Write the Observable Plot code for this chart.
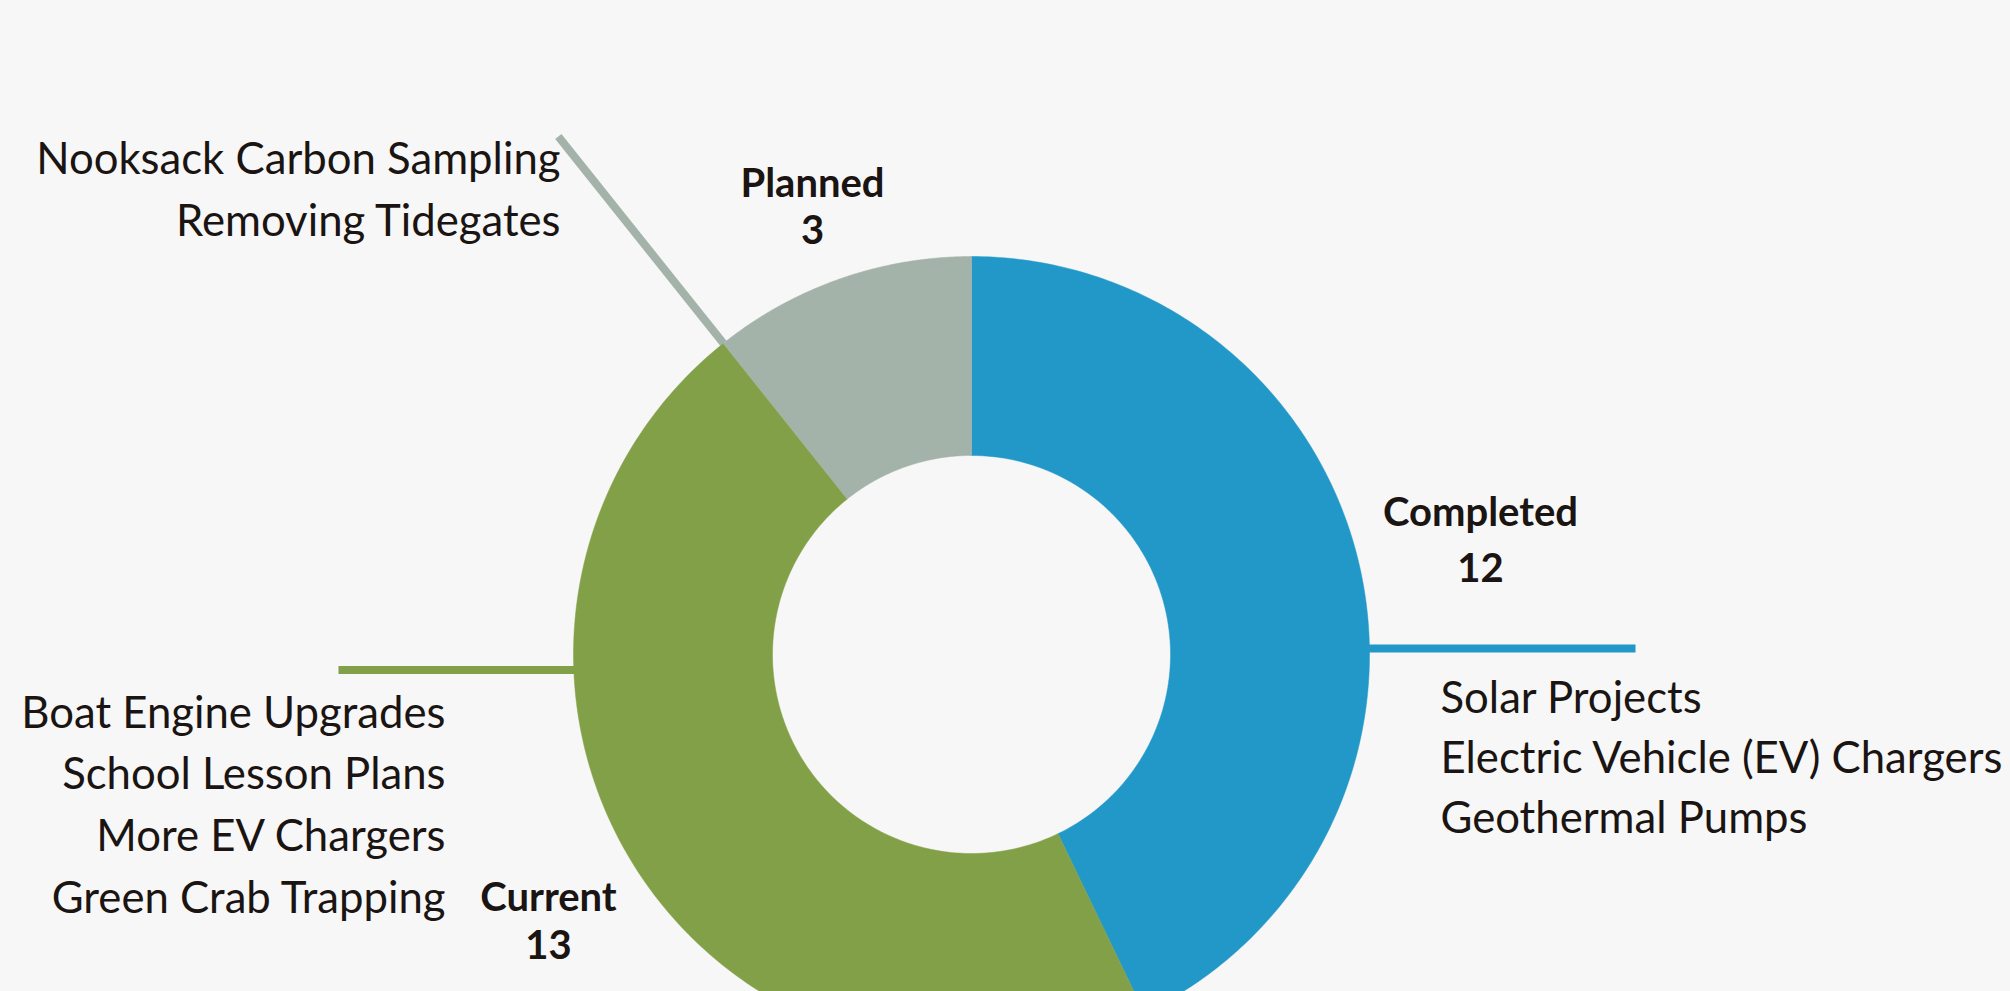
<!DOCTYPE html>
<html><head><meta charset="utf-8">
<script src="https://cdn.jsdelivr.net/npm/d3@7"></script>
<script src="https://cdn.jsdelivr.net/npm/@observablehq/plot@0.6"></script>
<style>
html,body{margin:0;padding:0;background:#f7f7f7;overflow:hidden;}
#chart svg{display:block}
</style></head><body><div id="chart"></div>
<script>
// ---- data ----
const categories = ["Completed", "Current", "Planned"];
const counts = [12, 13, 3];
const colors = ["#2298c9", "#82a047", "#a3b3a9"];
const completedItems = ["Solar Projects", "Electric Vehicle (EV) Chargers", "Geothermal Pumps"];
const currentItems = ["Boat Engine Upgrades", "School Lesson Plans", "More EV Chargers", "Green Crab Trapping"];
const plannedItems = ["Nooksack Carbon Sampling", "Removing Tidegates"];

// ---- layout (pixels) ----
const W = 2010, H = 991;
const CX = 971, CY = 654, R = 398, INNER = 0.5;
const px2x = (p) => (p - CX) / R;
const px2y = (p) => (CY - p) / R;

const FONT = "Lato";
const textColor = "#1a1412";

// donut polygons built from the pie layout of the counts
const slices = categories.map((c, i) => ({category: c, value: counts[i]}));
const arcs = d3.pie().sort(null).value(d => d.value).startAngle(0).endAngle(2 * Math.PI)(slices);
const ring = [];
for (const a of arcs) {
  const n = 200;
  for (let k = 0; k <= n; k++) {
    const t = a.startAngle + (a.endAngle - a.startAngle) * k / n;
    ring.push({category: a.data.category, x: Math.sin(t), y: Math.cos(t)});
  }
  for (let k = n; k >= 0; k--) {
    const t = a.startAngle + (a.endAngle - a.startAngle) * k / n;
    ring.push({category: a.data.category, x: INNER * Math.sin(t), y: INNER * Math.cos(t)});
  }
}
const boundaryPlanned = arcs[2].startAngle;

// leader lines
const leaders = [
  {category: "Completed", x: 0.95, y: px2y(648)}, {category: "Completed", x: px2x(1635), y: px2y(648)},
  {category: "Current", x: -0.95, y: px2y(669.5)}, {category: "Current", x: px2x(338), y: px2y(669.5)},
  {category: "Planned", x: Math.sin(boundaryPlanned), y: Math.cos(boundaryPlanned)},
  {category: "Planned", x: 1.665 * Math.sin(boundaryPlanned), y: 1.665 * Math.cos(boundaryPlanned)}
];

// item labels
const itemRows = [
  ...completedItems.map((t, i) => ({text: t, x: px2x(1440), y: px2y(712 + i * 60), anchor: "start"})),
  ...currentItems.map((t, i) => ({text: t, x: px2x(445), y: px2y(727 + i * 61.7), anchor: "end"})),
  ...plannedItems.map((t, i) => ({text: t, x: px2x(560), y: px2y(173 + i * 62), anchor: "end"}))
];
const catLabels = [
  {text: categories[0], x: px2x(1480), y: px2y(525)}, {text: String(counts[0]), x: px2x(1480), y: px2y(581)},
  {text: categories[1], x: px2x(548), y: px2y(910)}, {text: String(counts[1]), x: px2x(548), y: px2y(958)},
  {text: categories[2], x: px2x(812), y: px2y(196)}, {text: String(counts[2]), x: px2x(812), y: px2y(243)}
];

const chart = Plot.plot({
  width: W, height: H,
  margin: 0,
  style: {background: "#f7f7f7", fontFamily: FONT},
  x: {domain: [px2x(0), px2x(W)], axis: null},
  y: {domain: [px2y(H), px2y(0)], axis: null},
  color: {domain: categories, range: colors},
  marks: [
    Plot.line(leaders, {x: "x", y: "y", z: "category", stroke: "category", strokeWidth: 8, strokeLinecap: "butt"}),
    Plot.line(ring, {x: "x", y: "y", z: "category", fill: "category", stroke: "category", strokeWidth: 0.5, curve: "linear-closed"}),
    Plot.text(itemRows.filter(d => d.anchor === "start"), {x: "x", y: "y", text: "text", textAnchor: "start", lineAnchor: "bottom", fontSize: 43.7, fill: textColor}),
    Plot.text(itemRows.filter(d => d.anchor === "end"), {x: "x", y: "y", text: "text", textAnchor: "end", lineAnchor: "bottom", fontSize: 43.7, fill: textColor}),
    Plot.text(catLabels, {x: "x", y: "y", text: "text", textAnchor: "middle", lineAnchor: "bottom", fontSize: 40, fontWeight: "bold", fill: textColor})
  ]
});
document.getElementById("chart").append(chart);
</script>
</body></html>
